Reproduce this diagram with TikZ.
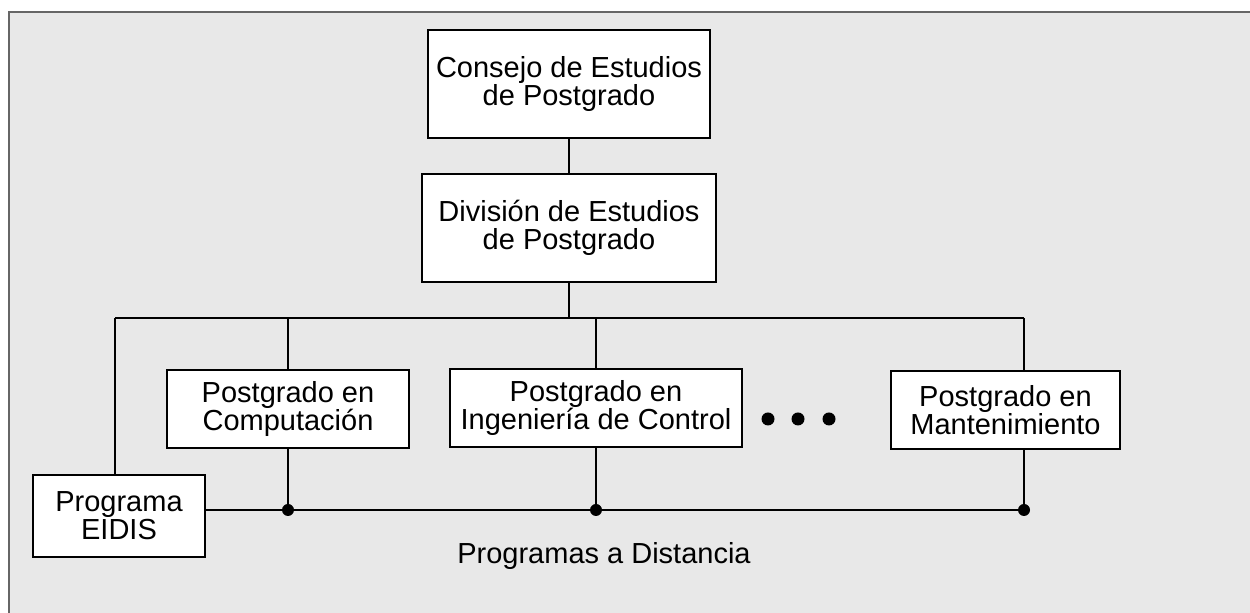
\documentclass[tikz,border=0pt]{standalone}
\usepackage{fontspec}
\setmainfont{Liberation Sans}
\definecolor{BgGray}{HTML}{E8E8E8}
\definecolor{FrameGray}{HTML}{666666}
\usepackage{tikz}

\begin{document}
\begin{tikzpicture}[x=0.5pt,y=-0.5pt,
    font=\fontsize{14.5}{14}\selectfont,
    box/.style={draw,fill=white,line width=1pt,align=center,inner sep=0pt},
    dot/.style={circle,fill=black,inner sep=0pt,minimum size=6pt},
    link/.style={line width=1pt}]
  \useasboundingbox (0,0) rectangle (1250,613);

  % Background panel
  \fill[BgGray] (9,12) rectangle (1250,613);
  \draw[FrameGray,line width=1pt] (9,613) -- (9,12) -- (1250,12);

  % Upper levels
  \node[box,minimum width=141pt,minimum height=54pt] (consejo) at (569,84)
    {Consejo de Estudios\\de Postgrado};
  \node[box,minimum width=147pt,minimum height=54pt] (division) at (569,228)
    {División de Estudios\\de Postgrado};

  % Programs
  \node[box,minimum width=121pt,minimum height=39pt] (comp) at (288,409.5)
    {Postgrado en\\Computación};
  \node[box,minimum width=146pt,minimum height=39pt] (control) at (596,408)
    {Postgrado en\\Ingeniería de Control};
  \node[box,minimum width=114.5pt,minimum height=39pt] (mant) at (1005.5,410)
    {Postgrado en\\Mantenimiento};
  \node[box,minimum width=86pt,minimum height=41pt] (eidis) at (119,516)
    {Programa\\EIDIS};

  % More programs
  \foreach \x [count=\i] in {768,798,829}
    \node[dot,minimum size=6.5pt] (more\i) at (\x,419) {};

  % Bus lines
  \coordinate (busL) at (115,318);
  \coordinate (busR) at (1024,318);
  \coordinate (lowR) at (1024,510);

  \draw[link] (consejo) -- (division);
  \draw[link] (division.south) -- (division.south |- busL);
  \draw[link] (busL) -- (busR);
  \draw[link] (busL) -- (busL |- eidis.north);
  \draw[link] (comp.north) -- (comp.north |- busL);
  \draw[link] (control.north) -- (control.north |- busL);
  \draw[link] (busR) -- (busR |- mant.north);

  % Distance programs
  \draw[link] (eidis.east |- lowR) -- (lowR);
  \draw[link] (comp.south) -- (comp.south |- lowR) node[dot] (jcomp) {};
  \draw[link] (control.south) -- (control.south |- lowR) node[dot] (jcontrol) {};
  \draw[link] (lowR |- mant.south) -- (lowR) node[dot] (jmant) {};

  \node (distancia) at (604,556) {Programas a Distancia};
\end{tikzpicture}
\end{document}
